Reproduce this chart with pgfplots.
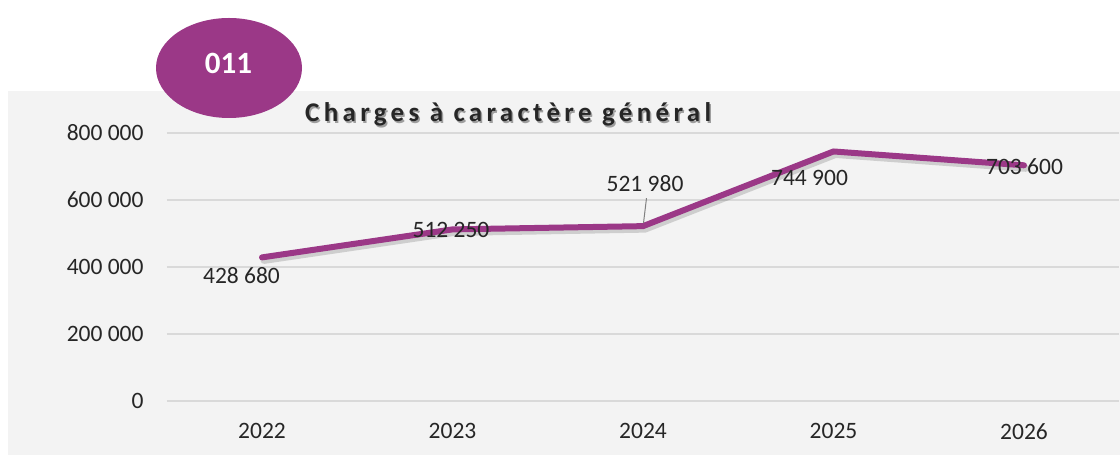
\documentclass[border=0pt]{standalone}
\usepackage{pgfplots}
\pgfplotsset{compat=1.18}
\usepackage{pgfplotstable}
\usepackage{fontspec}
\setmainfont{Carlito}
\newfontface\titlefont[LetterSpace=16]{Carlito Bold}
\definecolor{purp}{RGB}{155,56,135}
\definecolor{panel}{RGB}{243,243,243}
\definecolor{gridc}{RGB}{217,217,217}
\definecolor{txt}{RGB}{38,38,38}
\pgfplotsset{/pgf/number format/fixed, /pgf/number format/precision=0,
  /pgf/number format/1000 sep={\ }, /pgf/number format/assume math mode=true}
\pgfplotstableread{
x y dx dy
0 428680 -20.5 -18
1 512250 -1.5 -1
2 521980 2 43
3 744900 -24 -26
4 703600 0.5 -1.7
}\datatable
\begin{document}
\begin{tikzpicture}
\fill[white] (0,0) rectangle (1120bp,455bp);
\fill[panel] (8bp,0) rectangle (1120bp,364bp);
\begin{axis}[
  at={(166.75bp,54bp)}, anchor=south west,
  scale only axis, width=952.5bp, height=268bp,
  xmin=-0.5, xmax=4.5, ymin=0, ymax=800000,
  axis line style={draw=none}, tick style={draw=none}, major tick length=0pt,
  ymajorgrids, grid style={gridc, line width=1.5bp},
  xtick={0,1,2,3,4}, xticklabels={2022,2023,2024,2025,2026},
  ytick={0,200000,400000,600000,800000},
  scaled y ticks=false,
  clip=false,
  ticklabel style={font=\fontsize{23.5bp}{28bp}\selectfont, text=txt},
  yticklabel style={anchor=east, inner sep=0pt, xshift=-23bp},
  xticklabel style={anchor=north, inner sep=0pt, yshift=-22bp},
]
\addplot[black, opacity=0.15, line width=7bp, line cap=round, line join=round, xshift=2bp, yshift=-3bp]
  table[x=x, y=y]{\datatable};
\addplot[purp, line width=6bp, line cap=round, line join=round,
  visualization depends on={\thisrow{dx}\as\dx},
  visualization depends on={\thisrow{dy}\as\dy},
  point meta=explicit, nodes near coords,
  every node near coord/.append style={anchor=center, inner sep=0pt, xshift=\dx bp, yshift=\dy bp,
    font=\fontsize{23.5bp}{28bp}\selectfont, text=txt}]
  table[x=x, y=y, meta=y]{\datatable};
\draw[gray, line width=1bp] (axis cs:2,521980) ++(0.5bp,3bp) -- ++(3bp,25bp);
\end{axis}
\fill[purp] (229bp,387bp) ellipse [x radius=73bp, y radius=50bp];
\node[text=white, font=\fontsize{31bp}{36bp}\selectfont\bfseries, inner sep=0pt] at (228.5bp,391.5bp) {011};
\node[anchor=base west, inner sep=0pt, text=black, opacity=0.35, font=\fontsize{27bp}{32bp}\titlefont] at (306.5bp,331.5bp) {Charges à caractère général};
\node[anchor=base west, inner sep=0pt, text=txt, font=\fontsize{27bp}{32bp}\titlefont] at (305bp,333bp) {Charges à caractère général};
\end{tikzpicture}
\end{document}
